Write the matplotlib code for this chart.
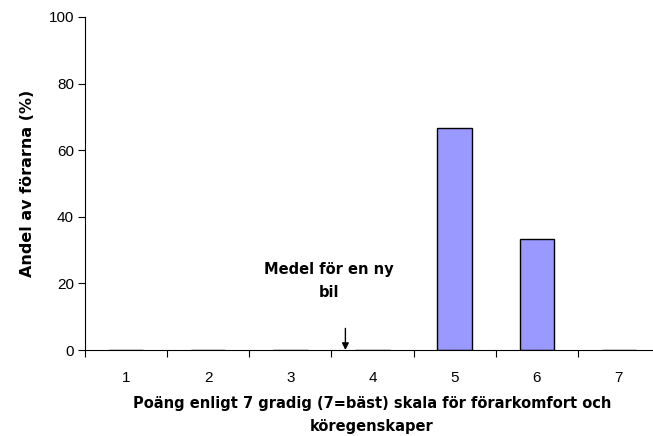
import matplotlib.pyplot as plt
import numpy as np

plt.rcParams['font.family'] = ['Liberation Sans', 'DejaVu Sans']

# data
poang = [1, 2, 3, 4, 5, 6, 7]
andel = [0, 0, 0, 0, 66.7, 33.3, 0]
medel_ny_bil = 3.67

bold = dict(family='DejaVu Sans', fontweight='bold', fontsize=10.5)

fig = plt.figure(figsize=(6.53, 4.36), dpi=100)
ax = fig.add_axes([85/653, (436-350)/436, 575/653, 333/436])

ax.bar(poang, andel, width=0.42, color='#9999FF', edgecolor='black', linewidth=1.0, zorder=2)

ax.set_xlim(0.5, 7.5)
ax.set_ylim(0, 100)
ax.set_yticks(np.arange(0, 101, 20))
ax.tick_params(axis='y', direction='out', length=5, pad=3, labelsize=11)

# ticks at category boundaries, labels at category centers
ax.set_xticks(np.arange(0.5, 7.6, 1.0))
ax.set_xticklabels([])
ax.set_xticks(poang, minor=True)
ax.set_xticklabels([str(p) for p in poang], minor=True)
ax.tick_params(axis='x', which='major', direction='out', length=5)
ax.tick_params(axis='x', which='minor', length=0, pad=15, labelsize=11)

for s in ['top', 'right']:
    ax.spines[s].set_visible(False)
ax.spines['left'].set_clip_on(False)
ax.spines['bottom'].set_clip_on(False)

ax.annotate('', xy=(medel_ny_bil, 0), xytext=(medel_ny_bil, 6.5),
            arrowprops=dict(arrowstyle='-|>', color='black', lw=1.0, mutation_scale=10,
                            shrinkA=0, shrinkB=0))
ax.text(medel_ny_bil - 0.2, 20.7, 'Medel för en ny\nbil', ha='center', va='center',
        linespacing=1.7, **bold)

ax.set_ylabel('Andel av förarna (%)', labelpad=10, **dict(bold, fontsize=11.5))
fig.text(372/653, 1 - 415/436, 'Poäng enligt 7 gradig (7=bäst) skala för förarkomfort och\nköregenskaper',
         ha='center', va='center', linespacing=1.7, **bold)

fig.savefig('out.png', dpi=100)
